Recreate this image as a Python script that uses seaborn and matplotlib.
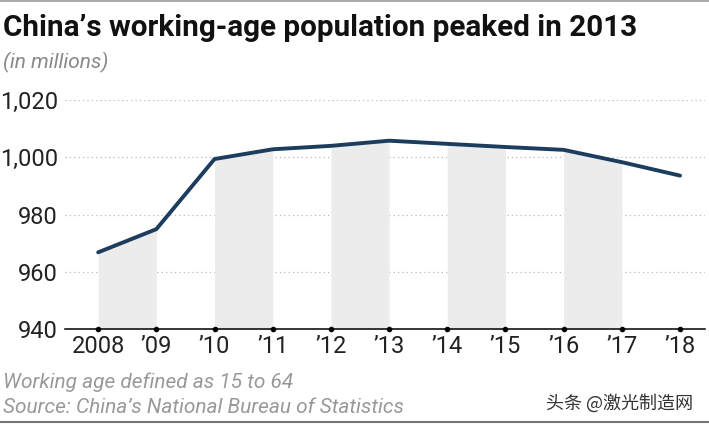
import matplotlib
matplotlib.use("Agg")
import matplotlib.pyplot as plt
import seaborn as sns
import pandas as pd
from matplotlib.lines import Line2D

years = [2008, 2009, 2010, 2011, 2012, 2013, 2014, 2015, 2016, 2017, 2018]
population = [966.8, 974.9, 999.4, 1002.8, 1004.0, 1005.8, 1004.7, 1003.6, 1002.6, 998.3, 993.6]
year_labels = ["2008", "\u201909", "\u201910", "\u201911", "\u201912", "\u201913",
               "\u201914", "\u201915", "\u201916", "\u201917", "\u201918"]
y_ticks = [940, 960, 980, 1000, 1020]
shaded_pairs = [(2008, 2009), (2010, 2011), (2012, 2013), (2014, 2015), (2016, 2017)]

sns.set_style("white")
plt.rcParams['font.family'] = ['Roboto', 'DejaVu Sans']

df = pd.DataFrame({"year": years, "population": population})

fig = plt.figure(figsize=(7.09, 4.24), dpi=100)
ax = fig.add_axes([0.0917, 0.224, 0.9027, 0.540])

# grey bands under the line for every other pair of years
for a, b in shaded_pairs:
    sub = df[(df.year >= a) & (df.year <= b)]
    ax.fill_between(sub.year, 940, sub.population, color="#ececec", lw=0, zorder=1)

sns.lineplot(data=df, x="year", y="population", ax=ax, color="#1d3d5e",
             linewidth=2.8, zorder=3, clip_on=False)

ax.set_xlim(2007.43, 2018.43)
ax.set_ylim(940, 1020)
ax.set_yticks(y_ticks)
ax.set_yticklabels([f"{v:,}" for v in y_ticks])
ax.set_xticks(years)
ax.set_xticklabels(year_labels)
for v in y_ticks[1:]:
    ax.axhline(v, color="#bbbbbb", lw=0.9, ls=(0, (1, 2.5)), zorder=0)

for s in ["top", "right", "left"]:
    ax.spines[s].set_visible(False)
ax.spines["bottom"].set_color("black")
ax.spines["bottom"].set_linewidth(1.1)
ax.spines["bottom"].set_zorder(4)
ax.scatter(years, [940] * len(years), s=9, color="black", zorder=5, clip_on=False)
ax.tick_params(axis="both", length=0, labelsize=17, colors="#222222")
ax.tick_params(axis="y", pad=5)
ax.tick_params(axis="x", pad=4)
ax.set_xlabel("")
ax.set_ylabel("")

fig.text(0.004, 0.915, "China\u2019s working-age population peaked in 2013",
         fontsize=21.3, fontweight="bold", color="#111111")
fig.text(0.004, 0.838, "(in millions)", fontsize=15, style="italic", color="#888888")
fig.text(0.004, 0.085, "Working age defined as 15 to 64", fontsize=15,
         style="italic", color="#999999")
fig.text(0.004, 0.025, "Source: China\u2019s National Bureau of Statistics", fontsize=15,
         style="italic", color="#999999")
fig.text(0.77, 0.035, "头条 @激光制造网", fontsize=13, color="#333333",
         family=['Noto Sans CJK SC', 'DejaVu Sans'])

fig.add_artist(Line2D([0, 1], [0.997, 0.997], color="#999999", lw=1.2))
fig.add_artist(Line2D([0, 1], [0.004, 0.004], color="#777777", lw=1.5))

fig.savefig("out.png", dpi=100)
